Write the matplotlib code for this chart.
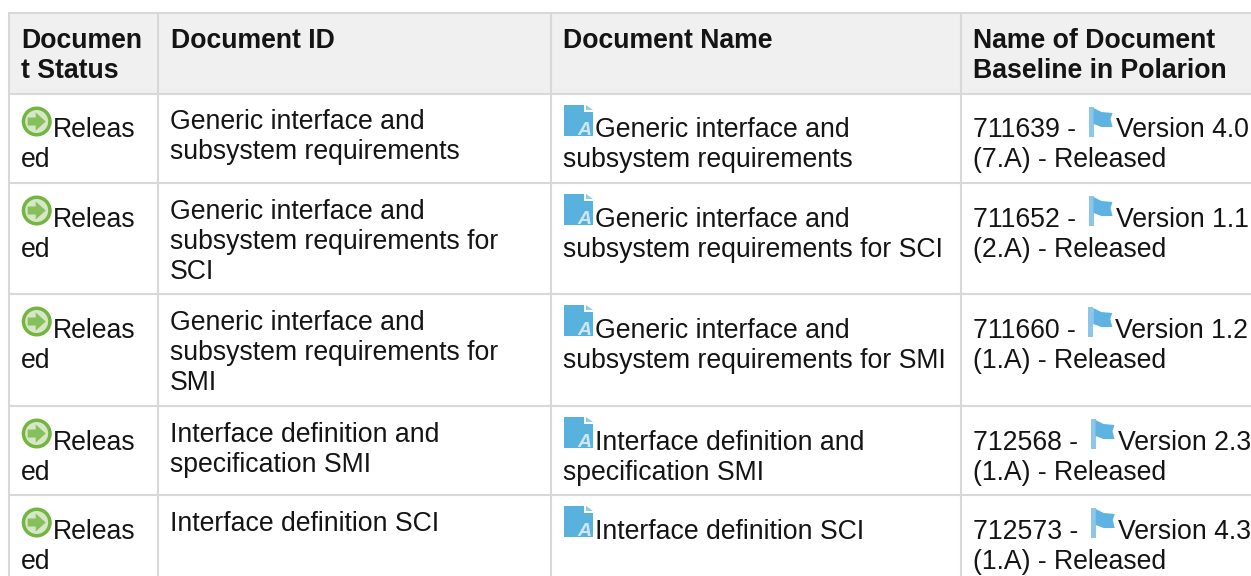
import matplotlib
matplotlib.use('Agg')
import matplotlib.pyplot as plt
from matplotlib.patches import Rectangle, Circle, Polygon

plt.rcParams['font.family'] = ['Liberation Sans', 'DejaVu Sans']

headers = [['Documen', 't Status'], ['Document ID'], ['Document Name'],
           ['Name of Document', 'Baseline in Polarion']]
status = ['Releas', 'ed']
doc_ids = [['Generic interface and', 'subsystem requirements'],
           ['Generic interface and', 'subsystem requirements for', 'SCI'],
           ['Generic interface and', 'subsystem requirements for', 'SMI'],
           ['Interface definition and', 'specification SMI'],
           ['Interface definition SCI']]
doc_names = [['Generic interface and', 'subsystem requirements'],
             ['Generic interface and', 'subsystem requirements for SCI'],
             ['Generic interface and', 'subsystem requirements for SMI'],
             ['Interface definition and', 'specification SMI'],
             ['Interface definition SCI']]
baseline_nums = ['711639', '711652', '711660', '712568', '712573']
versions = ['Version 4.0', 'Version 1.1', 'Version 1.2', 'Version 2.3', 'Version 4.3']
revisions = ['(7.A) - Released', '(2.A) - Released', '(1.A) - Released',
             '(1.A) - Released', '(1.A) - Released']

col_x = [9, 158, 551, 961]
head_x = [21, 171, 563, 973]
row_y = [94, 183, 294, 406, 495]
text_y = [94, 183.7, 294.7, 406.7, 495.7]
grid = '#d8d8d8'
fs = 19.2
lh = 30

fig = plt.figure(figsize=(12.51, 5.76), dpi=100)
ax = fig.add_axes([0, 0, 1, 1])
ax.set_xlim(0, 1251)
ax.set_ylim(576, 0)
ax.axis('off')


def put(x, y, s, **kw):
    return ax.text(x, y, s, fontsize=fs, color='#141414', va='baseline', ha='left',
                   clip_on=True, **kw)


def status_icon(top):
    cx, cy = 36.7, top + 27.5
    ax.add_patch(Circle((cx, cy), 15, fc='#72b541', ec='none'))
    ax.add_patch(Circle((cx, cy), 11.5, fc='#d6e6c6', ec='none'))
    ax.add_patch(Polygon([(cx - 9, cy - 4), (cx - 1, cy - 4), (cx - 1, cy - 9), (cx + 9, cy),
                          (cx - 1, cy + 9), (cx - 1, cy + 4), (cx - 9, cy + 4)],
                         fc='#86c05a', ec='none'))


def doc_icon(top):
    x0, y0 = 564, top + 11
    ax.add_patch(Polygon([(x0, y0), (x0 + 20, y0), (x0 + 20, y0 + 7), (x0 + 29, y0 + 7),
                          (x0 + 29, y0 + 31), (x0, y0 + 31)], fc='#59b1de', ec='none'))
    ax.add_patch(Polygon([(x0 + 22, y0), (x0 + 29, y0 + 5), (x0 + 22, y0 + 5)],
                         fc='#8fcbea', ec='none'))
    ax.text(x0 + 20, y0 + 30, 'A', fontsize=14, fontweight='bold', style='italic',
            color='#cfe8f6', ha='center', va='baseline')


def flag_icon(x0, top):
    y0 = top + 13
    ax.add_patch(Rectangle((x0, y0), 5, 30, fc='#8cc6e8', ec='none'))
    ax.add_patch(Polygon([(x0 + 5, y0 + 1), (x0 + 13, y0 + 5), (x0 + 24, y0 + 6), (x0 + 22, y0 + 12),
                          (x0 + 24, y0 + 20), (x0 + 13, y0 + 20), (x0 + 5, y0 + 17)],
                         fc='#5fb3e2', ec='none'))


# header band and grid
ax.add_patch(Rectangle((col_x[0], 12), 1251 - col_x[0], row_y[0] - 12, fc='#f0f0f0', ec='none'))
for y in [12.5] + row_y:
    ax.plot([col_x[0], 1251], [y, y], color=grid, lw=1.5, solid_capstyle='butt')
for x in col_x:
    ax.plot([x, x], [12, 576], color=grid, lw=1.5, solid_capstyle='butt')

for j, lines in enumerate(headers):
    for k, line in enumerate(lines):
        put(head_x[j], 48 + k * lh, line, fontweight='bold')

fig.canvas.draw()
rend = fig.canvas.get_renderer()
for i, top in enumerate(row_y):
    ty = text_y[i]
    status_icon(top)
    put(53, ty + 43, status[0])
    put(21, ty + 73, status[1])

    for k, line in enumerate(doc_ids[i]):
        put(170, ty + 35 + k * lh, line)

    doc_icon(top)
    put(595, ty + 43, doc_names[i][0])
    if len(doc_names[i]) > 1:
        put(563, ty + 73, doc_names[i][1])

    t = put(973, ty + 43, baseline_nums[i] + ' -')
    end = t.get_window_extent(rend).x1
    flag_icon(end + 12.5, top)
    put(end + 39.5, ty + 43, versions[i])
    put(973, ty + 73, revisions[i])

fig.savefig('out.png', dpi=100)
